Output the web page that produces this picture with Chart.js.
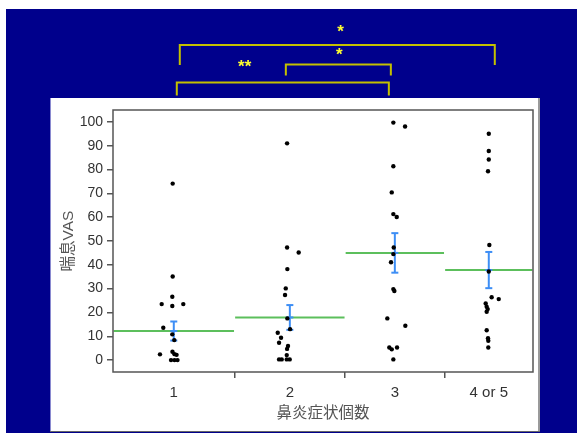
<!DOCTYPE html>
<html>
<head>
<meta charset="utf-8">
<script src="https://cdn.jsdelivr.net/npm/chart.js@4"></script>
<style>
  html, body { margin: 0; padding: 0; background: #fff; }
  canvas { display: block; }
</style>
</head>
<body>
<canvas id="chart" width="577" height="433"></canvas>
<script>
// groups (x axis) — column widths follow group size, as in the original plot
const GROUPS = ['1', '2', '3', '4 or 5'];
const GROUP_N = [22, 20, 18, 16];
const MEANS = [12.2, 17.9, 45.0, 37.8];
const SE = [4.0, 5.2, 8.3, 7.6];
const Y_TICKS = [0, 10, 20, 30, 40, 50, 60, 70, 80, 90, 100];

// [jitter offset from group centre, 喘息VAS]
const G1 = [[-0.2,74.1],[-0.2,35.1],[-0.27,26.6],[-2.19,23.5],[-0.27,22.7],[1.72,23.5],[-1.9,13.6],
  [-0.27,10.8],[0.09,8.4],[-2.5,2.4],[-0.24,3.5],[0.13,2.5],[0.5,2.2],[-0.5,0],[0.13,0],[0.67,0]];
const G2 = [[-0.5,91],[-0.5,47.3],[1.6,45.2],[-0.45,38.2],[-0.74,30.1],[-0.87,27.3],[-0.45,17.5],
  [0.04,13],[-2.19,11.5],[-1.59,9.4],[-1.95,7.3],[-0.33,5.9],[-0.5,4.7],[-0.56,2.1],
  [-1.95,0.3],[-1.47,0.3],[-0.56,0.3],[-0.02,0.3]];
const G3 = [[-0.27,99.7],[1.85,98.1],[-0.27,81.4],[-0.56,70.4],[-0.27,61.3],[0.34,60.1],[-0.2,47.3],
  [-0.27,44.5],[-0.69,41.1],[-0.27,29.8],[-0.09,29],[-1.36,17.5],[1.9,14.4],[-1.0,5.3],
  [-0.56,4.5],[0.4,5.3],[-0.27,0.3]];
const G4 = [[0,95],[0,87.8],[0,84.2],[-0.14,79.3],[0.1,48.3],[0,37.2],[0.52,26.4],[1.8,25.6],
  [-0.56,23.8],[-0.38,22.4],[-0.2,21.4],[-0.38,20.3],[-0.38,12.5],[-0.14,9.2],[-0.09,8.1],[-0.09,5.3]];
const POINTS = [G1, G2, G3, G4];

// significance brackets: group pairs and labels
const SIG_PAIRS = [[0, 3], [1, 2], [0, 2]];
const SIG_LABELS = ['*', '*', '**'];

// derived group bounds / centres
const BOUNDS = [0];
GROUP_N.forEach(n => BOUNDS.push(BOUNDS[BOUNDS.length - 1] + n));
const CENTERS = GROUP_N.map((n, i) => BOUNDS[i] + n / 2);
const X_TICKS = [];
BOUNDS.forEach((b, i) => { X_TICKS.push(b); if (i < CENTERS.length) X_TICKS.push(CENTERS[i]); });

const FONT = "'Liberation Sans', Arial, 'Noto Sans CJK JP', sans-serif";
const FRAME = '#555';

const datasets = [];
datasets.push({
  label: 'VAS',
  data: POINTS.flatMap((g, i) => g.map(p => ({ x: CENTERS[i] + p[0], y: p[1] }))),
  backgroundColor: '#000', borderWidth: 0, pointRadius: 2.2
});
MEANS.forEach((m, i) => {
  datasets.push({
    label: 'se' + i,
    data: [{ x: CENTERS[i], y: m - SE[i] }, { x: CENTERS[i], y: m }, { x: CENTERS[i], y: m + SE[i] }],
    showLine: true, borderColor: '#3d8ef5', borderWidth: 2,
    pointStyle: 'line', pointRadius: 3.5, pointBorderColor: '#3d8ef5', pointBorderWidth: 2
  });
});
MEANS.forEach((m, i) => {
  datasets.push({
    label: 'mean' + i,
    data: [{ x: BOUNDS[i] + 0.1, y: m }, { x: BOUNDS[i + 1] - 0.1, y: m }],
    showLine: true, borderColor: '#5cbf5c', borderWidth: 2, pointRadius: 0
  });
});

// brackets layout (pixel offsets from the group centres)
const BRACKET_LAYOUT = [
  { dx1: 6, dx2: 6, y: 45, leg: 20, lf: 0.51, ly: 28 },
  { dx1: -4, dx2: -4, y: 64.5, leg: 11, lf: 0.51, ly: 50.7 },
  { dx1: 3, dx2: -6, y: 82.5, leg: 13, lf: 0.32, ly: 62.7 }
];

const deco = {
  id: 'deco',
  beforeDraw(chart) {
    const c = chart.ctx;
    c.save();
    c.fillStyle = '#fff'; c.fillRect(0, 0, 577, 433);
    c.fillStyle = '#00008c'; c.fillRect(6, 9, 571, 424);
    c.fillStyle = '#fff'; c.fillRect(50, 98, 489, 334);
    c.fillStyle = '#8a8ad0'; c.fillRect(50, 98, 1, 334);
    c.fillStyle = '#9a9a9a'; c.fillRect(538, 98, 2, 334);
    c.fillStyle = '#666'; c.fillRect(50, 431, 490, 1);
    c.restore();
  },
  afterDraw(chart) {
    const c = chart.ctx, a = chart.chartArea, xs = chart.scales.x;
    c.save();
    c.strokeStyle = FRAME; c.lineWidth = 1.5;
    c.strokeRect(a.left, a.top, a.right - a.left, a.bottom - a.top);

    c.lineWidth = 2; c.strokeStyle = '#c4c000';
    c.fillStyle = '#ffff30';
    c.font = 'bold 17px ' + FONT;
    c.textAlign = 'center'; c.textBaseline = 'alphabetic';
    SIG_PAIRS.forEach((p, k) => {
      const b = BRACKET_LAYOUT[k];
      const x1 = xs.getPixelForValue(CENTERS[p[0]]) + b.dx1;
      const x2 = xs.getPixelForValue(CENTERS[p[1]]) + b.dx2;
      c.beginPath();
      c.moveTo(x1, b.y + b.leg); c.lineTo(x1, b.y); c.lineTo(x2, b.y); c.lineTo(x2, b.y + b.leg);
      c.stroke();
      c.fillText(SIG_LABELS[k], x1 + b.lf * (x2 - x1), b.ly + 9);
    });
    c.restore();
  }
};

new Chart(document.getElementById('chart'), {
  type: 'scatter',
  data: { datasets },
  options: {
    responsive: false,
    animation: false,
    devicePixelRatio: 1,
    layout: { padding: { left: 50, top: 110, right: 44, bottom: 0 } },
    plugins: { legend: { display: false }, tooltip: { enabled: false } },
    scales: {
      x: {
        type: 'linear', min: BOUNDS[0], max: BOUNDS[BOUNDS.length - 1],
        afterBuildTicks: s => { s.ticks = X_TICKS.map(v => ({ value: v })); },
        afterFit: s => { s.height = 61; },
        border: { display: false },
        grid: {
          drawOnChartArea: false, tickLength: 6, lineWidth: 1.5,
          tickColor: ctx => (ctx.index % 2 === 0 && ctx.index > 0 && ctx.index < X_TICKS.length - 1) ? FRAME : 'rgba(0,0,0,0)'
        },
        ticks: {
          autoSkip: false, maxRotation: 0, padding: 6, color: '#333',
          font: { family: FONT, size: 15 },
          callback: (v, i) => (i % 2 === 1 ? GROUPS[(i - 1) / 2] : '')
        },
        title: { display: true, text: '鼻炎症状個数', color: '#555', font: { family: FONT, size: 15.5 }, padding: { top: 0, bottom: 10 } }
      },
      y: {
        min: -5, max: 105,
        afterBuildTicks: s => { s.ticks = Y_TICKS.map(v => ({ value: v })); },
        afterFit: s => { s.width = 63; },
        border: { display: false },
        grid: { drawOnChartArea: false, tickLength: 6, lineWidth: 1.5, tickColor: FRAME },
        ticks: { padding: 4, color: '#333', font: { family: FONT, size: 14 } },
        title: { display: true, text: '喘息VAS', color: '#555', font: { family: FONT, size: 15.5 }, padding: { top: 9, bottom: 0 } }
      }
    }
  },
  plugins: [deco]
});
</script>
</body>
</html>
